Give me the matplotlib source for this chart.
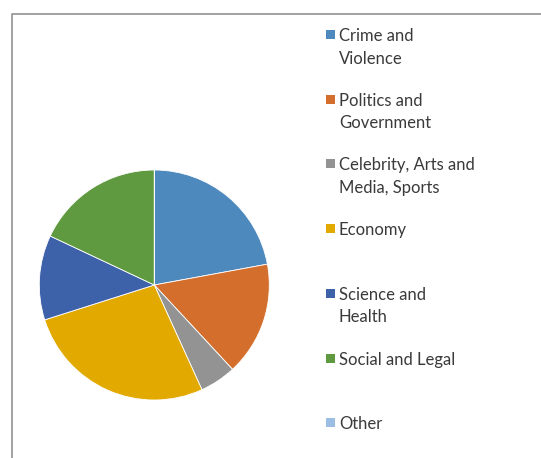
import matplotlib.pyplot as plt
from matplotlib.patches import Rectangle

# topic shares (percent)
labels = ["Crime and\nViolence", "Politics and\nGovernment", "Celebrity, Arts and\nMedia, Sports",
          "Economy", "Science and\nHealth", "Social and Legal", "Other"]
shares = [22.1, 16.0, 5.1, 26.9, 11.9, 18.0, 0.0]
colors = ["#4E89BE", "#D36E2C", "#939393", "#E2AA00", "#3E62AA", "#5F9A40", "#9DBEE4"]

W, H = 541, 458
fig = plt.figure(figsize=(W / 100, H / 100), dpi=100)
plt.rcParams['font.family'] = ['Lato', 'DejaVu Sans']

# chart frame (only top and left edges visible)
fig.add_artist(plt.Line2D([11.5 / W, 11.5 / W, 1.0], [0.0, (H - 13.5) / H, (H - 13.5) / H],
                          transform=fig.transFigure, color="#9A9A9A", linewidth=1.3))

# pie: centre (154, 285) px, radius 115 px
cx, cy, r = 154.3, 285, 115
ax = fig.add_axes([(cx - r) / W, (H - cy - r) / H, 2 * r / W, 2 * r / H])
ax.pie(shares, colors=colors, startangle=90, counterclock=False,
       wedgeprops=dict(edgecolor="white", linewidth=0.6))
ax.set_xlim(-1, 1)
ax.set_ylim(-1, 1)
ax.set_aspect("equal")
ax.axis("off")

# legend drawn by hand
y0, step = 34.5, 64.7
for i, (lab, c) in enumerate(zip(labels, colors)):
    y = y0 + i * step
    fig.patches.append(Rectangle((326 / W, (H - y - 4.5) / H), 9 / W, 9 / H,
                                 transform=fig.transFigure, facecolor=c, edgecolor="none"))
    for j, line in enumerate(lab.split("\n")):
        fig.text(339 / W, (H - (y + 1.5 + j * 22.5)) / H, line, fontsize=12,
                 color="#3A3A3A", va="center", ha="left")

fig.savefig("out.png", dpi=100)
